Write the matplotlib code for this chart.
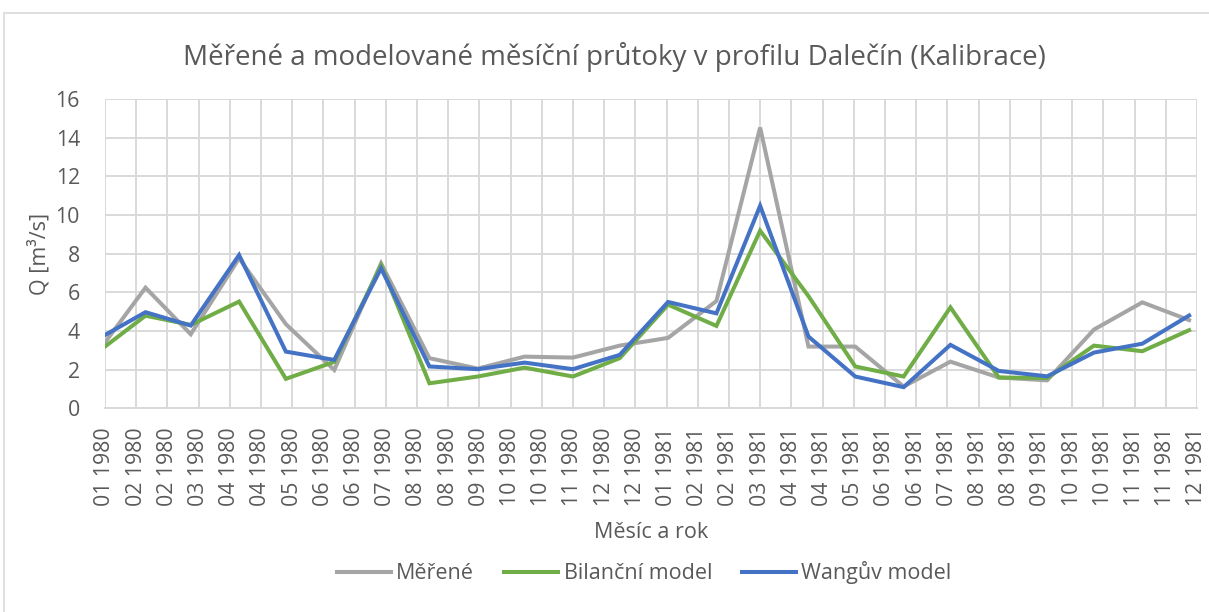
import matplotlib
matplotlib.use("Agg")
import matplotlib.pyplot as plt
import matplotlib.dates as mdates
import numpy as np
import pandas as pd

# monthly values, plotted mid-month on a date axis
months = pd.date_range("1980-01-01", periods=24, freq="MS") + pd.Timedelta(days=14)

merene = [2.85, 6.24, 3.83, 7.76, 4.35, 1.98, 7.5, 2.59, 2.05, 2.67, 2.62, 3.24,
          3.64, 5.55, 14.53, 3.19, 3.19, 1.12, 2.41, 1.59, 1.44, 4.07, 5.48, 4.56]
bilancni = [2.88, 4.79, 4.31, 5.52, 1.52, 2.4, 7.4, 1.29, 1.64, 2.1, 1.64, 2.59,
            5.36, 4.26, 9.19, 5.8, 2.16, 1.64, 5.22, 1.59, 1.56, 3.24, 2.95, 4.04]
wang = [3.56, 4.97, 4.28, 7.93, 2.93, 2.5, 7.24, 2.16, 2.02, 2.36, 2.02, 2.76,
        5.5, 4.91, 10.48, 3.71, 1.64, 1.09, 3.28, 1.93, 1.65, 2.88, 3.34, 4.8]

series_names = ["Měřené", "Bilanční model", "Wangův model"]
series_colors = ["#A5A5A5", "#70AD47", "#4472C4"]

axis_start = "1980-01-20"
axis_end = "1981-12-20"
tick_step_days = 20

title = "Měřené a modelované měsíční průtoky v profilu Dalečín (Kalibrace)"
txt = "#595959"

plt.rcParams["font.family"] = ["Open Sans", "DejaVu Sans"]

fig = plt.figure(figsize=(12.09, 6.12), dpi=100)
ax = fig.add_axes([0.0868, 0.333, 0.9032, 0.505])

# chart area border
fig.patches.append(plt.Rectangle((4 / 1209, -0.1), 1.2, 1.1 - 13 / 612,
                                 transform=fig.transFigure, fill=False,
                                 edgecolor="#D9D9D9", linewidth=1.2))

for vals, name, col in zip([merene, bilancni, wang], series_names, series_colors):
    ax.plot(months, vals, color=col, linewidth=2.9, label=name,
            solid_joinstyle="miter")

x0 = mdates.datestr2num(axis_start)
x1 = mdates.datestr2num(axis_end)
ax.set_xlim(x0, x1)
ax.set_xticks(np.arange(x0, x1 + 1, tick_step_days))
ax.xaxis.set_major_formatter(mdates.DateFormatter("%m %Y"))
ax.set_ylim(0, 16)
ax.set_yticks(range(0, 17, 2))

ax.grid(True, color="#D9D9D9", linewidth=1.4)
ax.set_axisbelow(True)
for s in ["top", "right", "left"]:
    ax.spines[s].set_visible(False)
ax.spines["bottom"].set_color("#D9D9D9")
ax.spines["bottom"].set_linewidth(1.4)

ax.tick_params(axis="both", length=0, labelsize=15.3, colors=txt)
ax.tick_params(axis="x", rotation=90, pad=14)
ax.tick_params(axis="y", pad=18)

ax.set_xlabel("Měsíc a rok", fontsize=15.5, color=txt, labelpad=11)
ax.set_ylabel("Q [m³/s]", fontsize=15.5, color=txt, labelpad=4)
fig.text(0.508, 0.907, title, ha="center", va="center", fontsize=20, color=txt)

leg = fig.legend(loc="center", bbox_to_anchor=(0.533, 0.064), ncol=3,
                 frameon=False, fontsize=15.5, handlelength=2.5,
                 handletextpad=0.25, columnspacing=1.4)
for t in leg.get_texts():
    t.set_color(txt)

fig.savefig("out.png", dpi=100)
